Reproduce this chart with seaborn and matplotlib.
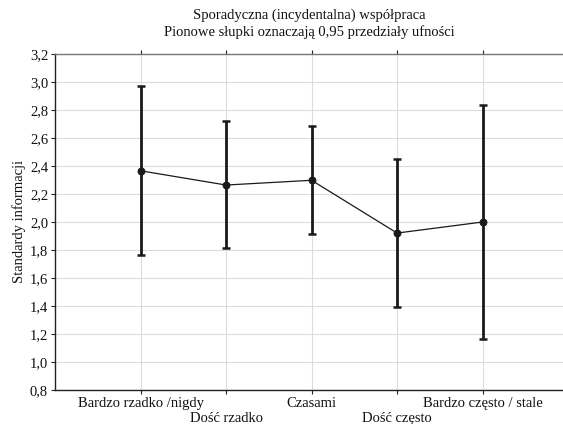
import matplotlib
matplotlib.use("Agg")
import matplotlib.pyplot as plt
import seaborn as sns
import pandas as pd

categories = ["Bardzo rzadko /nigdy", "Dość rzadko", "Czasami", "Dość często", "Bardzo często / stale"]
means = [2.366, 2.264, 2.298, 1.921, 2.000]
ci_low = [1.764, 1.812, 1.914, 1.393, 1.166]
ci_high = [2.974, 2.719, 2.683, 2.450, 2.836]
yticks = [0.8, 1.0, 1.2, 1.4, 1.6, 1.8, 2.0, 2.2, 2.4, 2.6, 2.8, 3.0, 3.2]

sns.set_theme(style="whitegrid")
plt.rcParams['font.family'] = ['Liberation Serif', 'DejaVu Serif']

df = pd.DataFrame({"cat": categories, "mean": means})

fig = plt.figure(figsize=(5.63, 4.24), dpi=100)
ax = fig.add_axes([55/563, 1 - 390/424, (563 - 55)/563, (390 - 54)/424])

sns.pointplot(data=df, x="cat", y="mean", order=categories, color="#1a1a1a",
              markers="o", markersize=5, linewidth=0.9, errorbar=None, ax=ax)
xs = list(range(len(categories)))
lo = [m - l for m, l in zip(means, ci_low)]
hi = [h - m for m, h in zip(means, ci_high)]
ax.errorbar(xs, means, yerr=[lo, hi], fmt="none", ecolor="#1a1a1a",
            elinewidth=2.0, capsize=3, capthick=1.8, zorder=3)

ax.set_xlim(-1, 4.94)
ax.set_ylim(0.8, 3.2)
ax.set_yticks(yticks)
ax.set_yticklabels([f"{v:.1f}".replace(".", ",") for v in yticks])
ax.set_xticks(xs)
ax.set_xticklabels(categories)

ax.grid(True, color="#dcdcdc", linewidth=0.8)
ax.set_facecolor("white")
for s in ["left", "bottom"]:
    ax.spines[s].set_color("#222222")
    ax.spines[s].set_linewidth(1.0)
ax.spines["top"].set_color("#777777")
ax.spines["top"].set_linewidth(1.0)
ax.spines["right"].set_visible(False)

ax.tick_params(axis="both", which="both", direction="out", length=3, width=0.8,
               color="#222222", labelsize=10.5, labelcolor="#111111", pad=2)
ax.tick_params(axis="x", top=True, bottom=True, pad=2)
ax.tick_params(axis="y", left=True)
for i, t in enumerate(ax.xaxis.get_major_ticks()):
    if i % 2 == 1:
        t.set_pad(12.5)

ax.set_xlabel("")
ax.set_ylabel("Standardy informacji", fontsize=10.5, color="#111111", labelpad=3)
ax.set_title("Sporadyczna (incydentalna) współpraca\nPionowe słupki oznaczają 0,95 przedziały ufności",
             fontsize=10.5, color="#111111", pad=13, linespacing=1.25)

fig.savefig("out.png", dpi=100)
